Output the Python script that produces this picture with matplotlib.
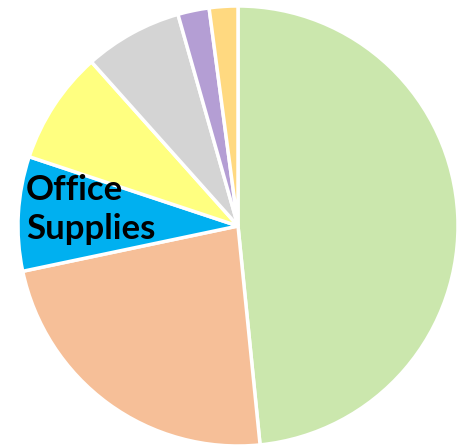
import matplotlib
matplotlib.use("Agg")
import matplotlib.pyplot as plt

# share of each category, clockwise from 12 o'clock
categories = ["Technology", "Furniture", "Office Supplies", "Other A", "Other B", "Other C", "Other D"]
shares = [48.4, 23.3, 8.4, 8.3, 7.2, 2.3, 2.1]
colors = ["#CBE7AD", "#F6BF98", "#00B0F0", "#FFFF80", "#D4D4D4", "#B49ED4", "#FFD980"]
shown_label = "Office\nSupplies"

fig = plt.figure(figsize=(4.64, 4.46), dpi=100)
cx, cy, r = 238, 226, 220
ax = fig.add_axes([(cx - r) / 464, (446 - cy - r) / 446, 2 * r / 464, 2 * r / 446])

ax.pie(shares, colors=colors, startangle=90, counterclock=False,
       wedgeprops=dict(edgecolor="white", linewidth=2.5))
ax.set_xlim(-1, 1)
ax.set_ylim(-1, 1)
ax.set_aspect("equal")
ax.axis("off")

ax.text(-0.965, 0.075, shown_label, ha="left", va="center",
        fontsize=25, fontweight="bold", family="Lato", linespacing=1.3)

fig.savefig("out.png", dpi=100)
